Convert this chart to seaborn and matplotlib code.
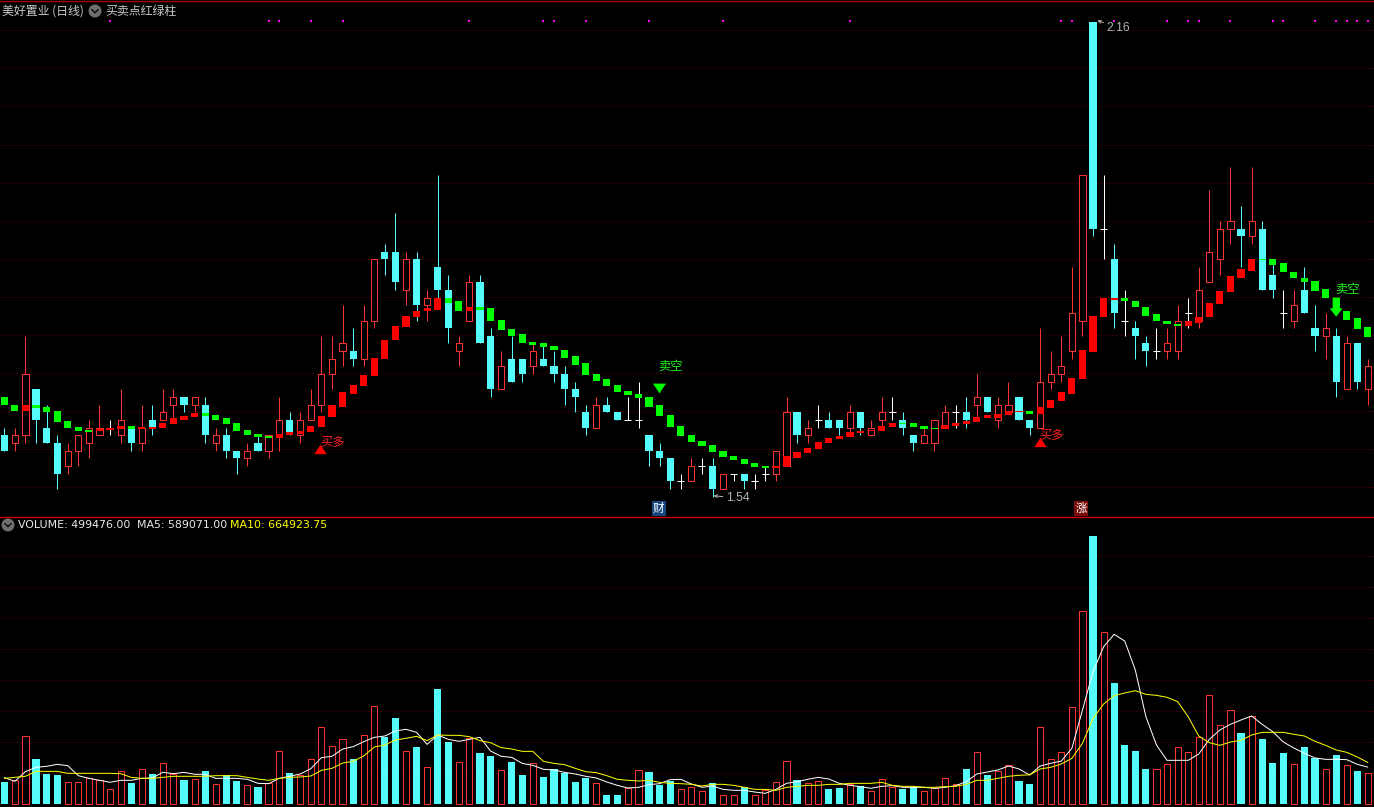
"""
Daily candles, red/green ladder signal and volume panel for 美好置业.
Prices in yuan, volumes in thousands of shares, read off the screenshot.
"""

import matplotlib
matplotlib.use("Agg")
import matplotlib.pyplot as plt
from matplotlib.patches import Circle
import numpy as np
import pandas as pd
import seaborn as sns

open_ = [
    1.62, 1.61, 1.62, 1.68, 1.63, 1.61, 1.58, 1.60, 1.61, 1.62,
    1.63, 1.62, 1.63, 1.61, 1.64, 1.64, 1.66, 1.67, 1.66, 1.66,
    1.61, 1.62, 1.60, 1.59, 1.61, 1.60, 1.62, 1.64, 1.62, 1.64,
    1.66, 1.70, 1.73, 1.73, 1.72, 1.77, 1.86, 1.86, 1.81, 1.85,
    1.79, 1.84, 1.81, 1.73, 1.77, 1.82, 1.75, 1.68, 1.72, 1.72,
    1.71, 1.72, 1.71, 1.70, 1.68, 1.65, 1.63, 1.66, 1.65, 1.64,
    1.64, 1.62, 1.60, 1.59, 1.56, 1.56, 1.58, 1.58, 1.55, 1.57,
    1.57, 1.56, 1.57, 1.57, 1.58, 1.65, 1.62, 1.64, 1.64, 1.64,
    1.63, 1.65, 1.62, 1.64, 1.65, 1.64, 1.62, 1.61, 1.61, 1.63,
    1.65, 1.65, 1.66, 1.67, 1.64, 1.65, 1.67, 1.64, 1.63, 1.69,
    1.70, 1.73, 1.77, 2.16, 1.89, 1.85, 1.77, 1.76, 1.74, 1.73,
    1.73, 1.73, 1.78, 1.77, 1.82, 1.85, 1.89, 1.89, 1.88, 1.89,
    1.83, 1.78, 1.77, 1.81, 1.76, 1.75, 1.75, 1.68, 1.74, 1.68,
]
close = [
    1.60, 1.62, 1.70, 1.64, 1.61, 1.57, 1.60, 1.62, 1.63, 1.63,
    1.63, 1.64, 1.61, 1.63, 1.63, 1.65, 1.67, 1.66, 1.67, 1.62,
    1.62, 1.60, 1.59, 1.60, 1.60, 1.62, 1.64, 1.62, 1.64, 1.66,
    1.70, 1.72, 1.74, 1.72, 1.77, 1.85, 1.85, 1.82, 1.85, 1.79,
    1.80, 1.81, 1.76, 1.74, 1.82, 1.74, 1.68, 1.71, 1.69, 1.70,
    1.73, 1.71, 1.70, 1.68, 1.67, 1.63, 1.66, 1.65, 1.64, 1.64,
    1.64, 1.60, 1.59, 1.56, 1.56, 1.58, 1.58, 1.55, 1.57, 1.57,
    1.56, 1.56, 1.57, 1.60, 1.65, 1.62, 1.63, 1.64, 1.63, 1.63,
    1.65, 1.63, 1.63, 1.65, 1.65, 1.63, 1.61, 1.62, 1.64, 1.65,
    1.65, 1.64, 1.67, 1.65, 1.66, 1.66, 1.64, 1.63, 1.69, 1.70,
    1.71, 1.78, 1.96, 1.89, 1.89, 1.78, 1.77, 1.75, 1.73, 1.73,
    1.74, 1.77, 1.78, 1.81, 1.86, 1.89, 1.90, 1.88, 1.90, 1.81,
    1.81, 1.78, 1.79, 1.78, 1.75, 1.76, 1.69, 1.74, 1.69, 1.71,
]
high = [
    1.63, 1.63, 1.75, 1.68, 1.66, 1.62, 1.61, 1.62, 1.64, 1.66,
    1.64, 1.68, 1.63, 1.66, 1.66, 1.68, 1.68, 1.67, 1.67, 1.67,
    1.63, 1.63, 1.60, 1.61, 1.62, 1.62, 1.67, 1.65, 1.65, 1.68,
    1.75, 1.75, 1.79, 1.76, 1.79, 1.85, 1.87, 1.91, 1.86, 1.86,
    1.81, 1.96, 1.83, 1.75, 1.83, 1.83, 1.76, 1.73, 1.75, 1.72,
    1.74, 1.74, 1.73, 1.71, 1.69, 1.66, 1.67, 1.67, 1.65, 1.67,
    1.69, 1.62, 1.61, 1.59, 1.57, 1.59, 1.59, 1.59, 1.57, 1.57,
    1.57, 1.57, 1.58, 1.60, 1.67, 1.65, 1.64, 1.66, 1.65, 1.64,
    1.66, 1.65, 1.64, 1.67, 1.67, 1.65, 1.62, 1.63, 1.64, 1.66,
    1.66, 1.67, 1.70, 1.67, 1.67, 1.69, 1.67, 1.64, 1.76, 1.73,
    1.75, 1.84, 1.96, 2.16, 1.96, 1.87, 1.81, 1.77, 1.75, 1.76,
    1.76, 1.79, 1.80, 1.84, 1.94, 1.90, 1.97, 1.92, 1.97, 1.90,
    1.85, 1.81, 1.81, 1.84, 1.79, 1.78, 1.76, 1.75, 1.74, 1.72,
]
low = [
    1.60, 1.60, 1.61, 1.61, 1.61, 1.55, 1.57, 1.58, 1.59, 1.62,
    1.62, 1.61, 1.60, 1.60, 1.62, 1.64, 1.64, 1.65, 1.65, 1.61,
    1.60, 1.59, 1.57, 1.58, 1.60, 1.59, 1.60, 1.62, 1.61, 1.64,
    1.65, 1.68, 1.71, 1.71, 1.71, 1.76, 1.83, 1.81, 1.79, 1.77,
    1.77, 1.80, 1.74, 1.71, 1.77, 1.74, 1.67, 1.68, 1.69, 1.69,
    1.70, 1.71, 1.69, 1.66, 1.65, 1.62, 1.63, 1.65, 1.64, 1.64,
    1.63, 1.58, 1.58, 1.55, 1.55, 1.56, 1.57, 1.54, 1.55, 1.56,
    1.55, 1.55, 1.56, 1.56, 1.58, 1.61, 1.61, 1.63, 1.63, 1.62,
    1.62, 1.62, 1.62, 1.63, 1.64, 1.62, 1.60, 1.61, 1.60, 1.63,
    1.63, 1.63, 1.64, 1.65, 1.63, 1.65, 1.64, 1.62, 1.63, 1.68,
    1.69, 1.72, 1.75, 1.88, 1.85, 1.76, 1.75, 1.72, 1.71, 1.72,
    1.72, 1.72, 1.76, 1.76, 1.82, 1.83, 1.87, 1.84, 1.87, 1.81,
    1.80, 1.76, 1.76, 1.78, 1.73, 1.72, 1.67, 1.68, 1.68, 1.66,
]

# ladder signal: upper and lower edge of each block, 1 = red, 0 = green
ladder_top = [
    1.670, 1.660, 1.660, 1.660, 1.657, 1.652, 1.639, 1.631, 1.627, 1.628,
    1.630, 1.632, 1.632, 1.631, 1.631, 1.636, 1.642, 1.645, 1.649, 1.649,
    1.647, 1.642, 1.636, 1.627, 1.622, 1.619, 1.622, 1.624, 1.626, 1.632,
    1.645, 1.659, 1.676, 1.686, 1.699, 1.721, 1.745, 1.763, 1.776, 1.783,
    1.786, 1.799, 1.799, 1.795, 1.788, 1.788, 1.786, 1.771, 1.759, 1.752,
    1.742, 1.740, 1.737, 1.732, 1.723, 1.714, 1.700, 1.693, 1.686, 1.678,
    1.674, 1.670, 1.659, 1.647, 1.632, 1.621, 1.613, 1.607, 1.600, 1.593,
    1.589, 1.584, 1.580, 1.580, 1.593, 1.598, 1.604, 1.611, 1.617, 1.619,
    1.624, 1.626, 1.627, 1.632, 1.636, 1.636, 1.636, 1.632, 1.630, 1.634,
    1.636, 1.639, 1.644, 1.647, 1.648, 1.652, 1.652, 1.652, 1.657, 1.666,
    1.676, 1.695, 1.731, 1.776, 1.799, 1.800, 1.800, 1.796, 1.788, 1.778,
    1.770, 1.766, 1.769, 1.775, 1.793, 1.808, 1.828, 1.837, 1.851, 1.851,
    1.850, 1.845, 1.834, 1.826, 1.821, 1.811, 1.800, 1.783, 1.773, 1.761,
]
ladder_bottom = [
    1.659, 1.652, 1.652, 1.656, 1.651, 1.638, 1.630, 1.626, 1.624, 1.626,
    1.627, 1.628, 1.628, 1.628, 1.628, 1.630, 1.635, 1.640, 1.644, 1.645,
    1.640, 1.635, 1.626, 1.621, 1.618, 1.617, 1.617, 1.621, 1.622, 1.624,
    1.631, 1.644, 1.657, 1.674, 1.685, 1.698, 1.720, 1.744, 1.762, 1.775,
    1.782, 1.784, 1.793, 1.783, 1.783, 1.784, 1.770, 1.758, 1.750, 1.741,
    1.738, 1.736, 1.731, 1.721, 1.712, 1.699, 1.691, 1.685, 1.677, 1.673,
    1.669, 1.657, 1.645, 1.631, 1.619, 1.611, 1.606, 1.598, 1.592, 1.588,
    1.583, 1.579, 1.577, 1.577, 1.579, 1.590, 1.597, 1.602, 1.610, 1.615,
    1.618, 1.623, 1.625, 1.626, 1.631, 1.635, 1.631, 1.628, 1.628, 1.628,
    1.632, 1.635, 1.638, 1.643, 1.642, 1.647, 1.651, 1.648, 1.648, 1.656,
    1.665, 1.674, 1.694, 1.729, 1.775, 1.797, 1.795, 1.787, 1.776, 1.769,
    1.765, 1.763, 1.763, 1.767, 1.774, 1.792, 1.807, 1.826, 1.835, 1.849,
    1.843, 1.833, 1.825, 1.820, 1.809, 1.799, 1.782, 1.771, 1.759, 1.748,
]
ladder_red = [
    0, 0, 1, 0, 0, 0, 0, 0, 0, 1,
    1, 1, 0, 1, 1, 1, 1, 1, 1, 0,
    0, 0, 0, 0, 0, 0, 1, 1, 1, 1,
    1, 1, 1, 1, 1, 1, 1, 1, 1, 1,
    1, 1, 0, 0, 1, 0, 0, 0, 0, 0,
    0, 0, 0, 0, 0, 0, 0, 0, 0, 0,
    0, 0, 0, 0, 0, 0, 0, 0, 0, 0,
    0, 0, 0, 1, 1, 1, 1, 1, 1, 1,
    1, 1, 1, 1, 1, 0, 0, 0, 0, 1,
    1, 1, 1, 1, 1, 1, 1, 0, 1, 1,
    1, 1, 1, 1, 1, 1, 0, 0, 0, 0,
    0, 0, 1, 1, 1, 1, 1, 1, 1, 0,
    0, 0, 0, 0, 0, 0, 0, 0, 0, 0,
]

volume = [
    349, 381, 1087, 721, 478, 462, 344, 344, 414, 381,
    230, 521, 333, 554, 478, 651, 478, 381, 392, 527,
    311, 462, 365, 295, 268, 327, 844, 494, 462, 715,
    1232, 925, 1038, 721, 1103, 1571, 1076, 1383, 844, 914,
    586, 1851, 995, 667, 1054, 817, 769, 537, 672, 462,
    651, 430, 554, 494, 349, 414, 327, 139, 139, 257,
    537, 510, 300, 365, 230, 263, 198, 333, 134, 134,
    263, 134, 214, 344, 683, 381, 327, 360, 236, 252,
    311, 284, 198, 392, 263, 236, 268, 198, 246, 408,
    311, 559, 828, 462, 521, 618, 365, 317, 1232, 715,
    828, 1555, 3106, 4323, 2767, 1948, 947, 850, 559, 554,
    634, 909, 828, 1071, 1749, 1264, 1507, 1141, 1410, 1044,
    656, 817, 634, 914, 737, 554, 785, 618, 527, 499.476,
]
ma5 = [
    419, 360, 516, 586, 602, 634, 613, 451, 408, 376,
    344, 376, 376, 408, 414, 505, 484, 505, 473, 473,
    408, 408, 408, 392, 327, 322, 408, 441, 478, 564,
    742, 764, 880, 920, 1000, 1070, 1092, 1173, 1200, 1151,
    957, 1108, 1038, 1006, 1038, 1070, 850, 764, 747, 650,
    618, 554, 543, 505, 478, 441, 414, 349, 295, 252,
    263, 306, 322, 387, 392, 317, 263, 284, 230, 214,
    214, 187, 166, 230, 327, 354, 392, 424, 397, 327,
    295, 274, 247, 279, 290, 263, 263, 263, 247, 263,
    290, 354, 478, 511, 543, 607, 559, 462, 607, 651,
    688, 893, 1512, 2131, 2535, 2734, 2626, 2158, 1404, 947,
    699, 699, 699, 801, 1038, 1189, 1281, 1351, 1415, 1281,
    1162, 995, 898, 812, 737, 715, 715, 710, 634, 589.071,
]
ma10 = [
    408, 424, 441, 521, 521, 521, 489, 489, 489, 489,
    489, 484, 424, 408, 408, 424, 441, 441, 441, 441,
    451, 451, 451, 424, 397, 376, 408, 424, 430, 446,
    537, 570, 655, 683, 769, 914, 947, 1027, 1054, 1087,
    1017, 1108, 1103, 1103, 1081, 1017, 984, 904, 882, 844,
    844, 683, 650, 629, 570, 516, 500, 451, 392, 376,
    365, 376, 344, 327, 322, 311, 284, 311, 311, 295,
    263, 230, 230, 214, 263, 279, 295, 295, 311, 311,
    327, 327, 327, 344, 295, 279, 279, 263, 263, 274,
    279, 311, 376, 376, 408, 441, 457, 465, 559, 586,
    640, 731, 974, 1377, 1609, 1744, 1787, 1824, 1765, 1749,
    1717, 1647, 1404, 1092, 984, 941, 995, 1022, 1108, 1151,
    1151, 1151, 1119, 1092, 1006, 941, 866, 828, 753, 664.924,
]

# candles that carry a magenta dot along the top edge
dot_days = [10, 25, 26, 29, 32, 44, 51, 52, 55, 61, 68, 80,
            100, 101, 105, 110, 112, 113, 116, 120, 121, 124, 126, 127, 128, 129]

RED = "#ff3232"
CYAN = "#54fcfc"
GRID = "#7a0000"
CJK = ["Noto Sans CJK SC", "DejaVu Sans"]
PX = 0.72  # one screen pixel in points at dpi 100

sns.set_theme(style="dark", rc={"axes.facecolor": "black", "figure.facecolor": "black"})
plt.rcParams["font.family"] = CJK

day = np.arange(len(close))
prices = pd.DataFrame({"day": day, "open": open_, "close": close, "high": high, "low": low,
                       "top": ladder_top, "bottom": ladder_bottom, "red": ladder_red})
vols = pd.DataFrame({"day": day, "volume": volume, "ma5": ma5, "ma10": ma10})
prev_close = prices["close"].shift(1).fillna(prices["close"])
vols["up"] = (prices["close"] > prices["open"]) | ((prices["close"] == prices["open"]) & (prices["close"] >= prev_close))

fig = plt.figure(figsize=(13.74, 8.07), dpi=100)
ax_price = fig.add_axes([0, 290.5 / 807, 1, 516.5 / 807])
ax_vol = fig.add_axes([0, 0, 1, 290.5 / 807])
overlay = fig.add_axes([0, 0, 1, 1])
overlay.set_xlim(0, 1374)
overlay.set_ylim(807, 0)
overlay.axis("off")
overlay.patch.set_alpha(0)

XLIM = (-0.407, 129.58)

# Price panel
for level in 2.1492 - 0.04976 * np.arange(13):
    ax_price.axhline(level, color=GRID, lw=PX, ls=(0, (1, 3)), zorder=0)

up = prices[prices["close"] > prices["open"]]
down = prices[prices["close"] < prices["open"]]
doji = prices[prices["close"] == prices["open"]]

for part, colour in [(up, RED), (down, CYAN), (doji, "white")]:
    wicks = ax_price.vlines(part["day"], part["low"], part["high"], color=colour, lw=PX, zorder=1)
    wicks.set_snap(True)

ax_price.bar(up["day"], up["close"] - up["open"], bottom=up["open"], width=0.58,
             facecolor="black", edgecolor=RED, linewidth=PX, zorder=2, snap=True)
ax_price.bar(down["day"], down["open"] - down["close"], bottom=down["close"], width=0.68,
             color=CYAN, linewidth=0, zorder=2, antialiased=False)
ticks = ax_price.hlines(doji["close"], doji["day"] - 0.33, doji["day"] + 0.33, color="white", lw=PX, zorder=2)
ticks.set_snap(True)

for flag, colour in [(1, "#ff0000"), (0, "#00ff00")]:
    part = prices[prices["red"] == flag]
    ax_price.bar(part["day"], part["top"] - part["bottom"], bottom=part["bottom"], width=0.68,
                 color=colour, linewidth=0, zorder=3, antialiased=False)

sns.scatterplot(x=dot_days, y=[2.1613] * len(dot_days), ax=ax_price, color="#ff00ff",
                marker="s", s=4, linewidth=0, zorder=5)

# Buy / sell signals, flatter than the stock triangle markers
tri_up = [(-1, -0.75), (1, -0.75), (0, 0.75)]
tri_down = [(-1, 0.75), (1, 0.75), (0, -0.75)]
ax_price.scatter([29.9, 98], [1.602, 1.611], marker=tri_up, s=80, color="#ff0000", linewidth=0, zorder=5)
ax_price.scatter([61.9], [1.682], marker=tri_down, s=88, color="#00ff00", linewidth=0, zorder=5)
ax_price.annotate("", xy=(126, 1.775), xytext=(126, 1.80), zorder=5,
                  arrowprops=dict(facecolor="#00ff00", edgecolor="none", width=5, headwidth=9.4, headlength=6, shrink=0))
for x, y in [(31.05, 1.611), (99.1, 1.620)]:
    ax_price.text(x, y, "买多", color="#ff2020", fontsize=8.8, ha="center", va="center", zorder=6)
for x, y in [(63.0, 1.710), (127.07, 1.81)]:
    ax_price.text(x, y, "卖空", color="#20f020", fontsize=8.8, ha="center", va="center", zorder=6)

# High / low labels
for text, tip, anchor in [("1.54", (67.1, 1.541), (68.28, 1.538)), ("2.16", (103.4, 2.162), (104.3, 2.152))]:
    ax_price.annotate(text, xy=tip, xytext=anchor, color="#b4b4b4", fontsize=8.8, va="center",
                      family="Liberation Sans",
                      arrowprops=dict(arrowstyle="->", color="#b4b4b4", lw=PX, mutation_scale=5, shrinkA=0, shrinkB=0))

# Event badges under the candles
for x, label, colour in [(61.9, "财", "#15467f"), (101.86, "涨", "#7a0c0c")]:
    ax_price.text(x, 1.524, label, color="white", fontsize=8.4, ha="center", va="center", zorder=6,
                  bbox=dict(facecolor=colour, edgecolor="none", pad=0.8))

ax_price.set_xlim(*XLIM)
ax_price.set_ylim(1.5139, 2.1888)
ax_price.axis("off")

# Volume panel
for level in 500 * np.arange(1, 9):
    ax_vol.axhline(level, color=GRID, lw=PX, ls=(0, (1, 3)), zorder=0)

sns.barplot(data=vols[vols["up"]], x="day", y="volume", native_scale=True, width=0.58, color="black",
            saturation=1, edgecolor=RED, linewidth=PX, errorbar=None, ax=ax_vol, zorder=2)
sns.barplot(data=vols[~vols["up"]], x="day", y="volume", native_scale=True, width=0.68, color=CYAN,
            saturation=1, linewidth=0, errorbar=None, ax=ax_vol, zorder=2)
for patch in ax_vol.patches:
    patch.set_snap(True)

sns.lineplot(data=vols, x="day", y="ma5", color="white", lw=PX, ax=ax_vol, zorder=4)
sns.lineplot(data=vols, x="day", y="ma10", color="#ffff00", lw=PX, ax=ax_vol, zorder=5)

ax_vol.set_xlim(*XLIM)
ax_vol.set_ylim(-55, 4638)
ax_vol.axis("off")

# Header rows, drop-down icons and panel borders
overlay.axhline(1, color="#a00000", lw=PX * 1.4)
overlay.axhline(516.5, color="#d00000", lw=PX * 1.4)
for cx, cy in [(95, 11), (8, 525)]:
    overlay.add_patch(Circle((cx, cy), 6.5, color="#6e6e6e", lw=0))
    overlay.plot([cx - 3.2, cx, cx + 3.2], [cy - 1.5, cy + 1.8, cy - 1.5], color="#111111", lw=1.1)
overlay.text(2, 11, "美好置业 (日线)", color="#c8c8c8", fontsize=8.6, va="center")
overlay.text(105, 11, "买卖点红绿柱", color="#c8c8c8", fontsize=8.6, va="center")
overlay.text(18, 524.5, "VOLUME: 499476.00", color="#e8e8e8", fontsize=7.9, va="center", family="DejaVu Sans")
overlay.text(137, 524.5, "MA5: 589071.00", color="#e8e8e8", fontsize=7.9, va="center", family="DejaVu Sans")
overlay.text(230, 524.5, "MA10: 664923.75", color="#ffff00", fontsize=7.9, va="center", family="DejaVu Sans")

fig.savefig("out.png", dpi=100, facecolor="black")
